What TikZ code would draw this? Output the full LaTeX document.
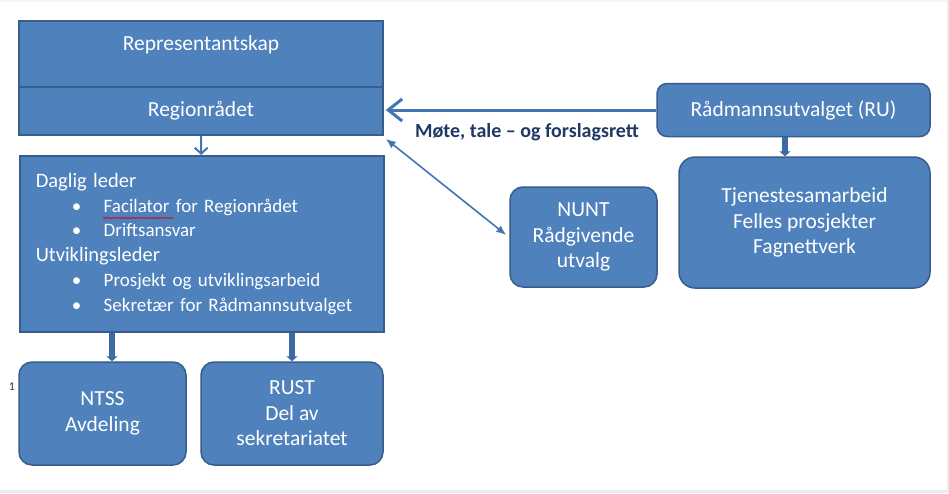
\documentclass[tikz,border=0pt]{standalone}
\usepackage{fontspec}
\setmainfont{Carlito}
\usetikzlibrary{arrows.meta,decorations.pathmorphing}

\definecolor{boxfill}{HTML}{4F81BD}
\definecolor{boxline}{HTML}{385D8A}
\definecolor{arrowblue}{HTML}{4375B3}
\definecolor{fatblue}{HTML}{3E6AA3}
\definecolor{labelnavy}{HTML}{1F3864}

\newcommand{\bulitem}[1]{\makebox[68pt][l]{\hspace{36pt}\textbullet}#1}
\newcommand{\listhead}[1]{{\fontsize{20.5}{24.8}\selectfont #1}}

\tikzset{
  box/.style={draw=boxline,fill=boxfill,line width=1.5pt,text=white,
    font=\fontsize{21.5}{25.5}\selectfont,align=center,inner sep=0pt},
  rbox/.style={box,rounded corners=13pt},
  thinarrow/.style={draw=arrowblue,line width=2pt,
    -{Straight Barb[length=6pt,width=13pt]}},
  fatarrow/.style={draw=fatblue,line width=5.5pt,
    -{Triangle[length=5pt,width=11pt]}},
  linkarrow/.style={draw=arrowblue,line width=3pt,
    -{Straight Barb[length=14pt,width=22pt]}},
  bothway/.style={draw=arrowblue,line width=1.6pt,
    {Latex[length=10pt,width=8pt]}-{Latex[length=10pt,width=8pt]}},
  lbl/.style={text=labelnavy,font=\fontsize{20}{22}\selectfont\bfseries,inner sep=0pt}
}

\begin{document}
\begin{tikzpicture}[x=1pt,y=-1pt]

  \useasboundingbox (0,0) rectangle (949,493);
  \fill[gray!15] (946.5,0) rectangle (949,493);
  \fill[gray!15] (0,489.5) rectangle (949,493);
  \fill[gray!8] (0,0) rectangle (946.5,1.5);

  \begin{scope}[every node/.style={box}]
    \node (rep) [anchor=north,minimum width=364,text height=29.5,text depth=37.5]
      at (201,20) {Representantskap};
    \node (reg) [minimum width=364,minimum height=48] at (201,111) {Regionrådet};
    \node (daglig) [anchor=north west,text width=332,inner xsep=16,minimum height=176,
      align=left,font=\fontsize{19}{24.8}\selectfont]
      at (19,155) {\listhead{Daglig leder}\\
        \bulitem{Facilator for Regionrådet}\\
        \bulitem{Driftsansvar}\\
        \listhead{Utviklingsleder}\\
        \bulitem{Prosjekt og utviklingsarbeid}\\
        \bulitem{Sekretær for Rådmannsutvalget}};
  \end{scope}

  \begin{scope}[every node/.style={rbox}]
    \node (ntss) [minimum width=167,minimum height=103] at (102.5,413.5) {NTSS\\Avdeling};
    \node (rust) [minimum width=182,minimum height=103] at (292,413.5) {RUST\\Del av\\sekretariatet};
    \node (nunt) [minimum width=147,minimum height=100] at (583.5,237) {NUNT\\Rådgivende\\utvalg};
    \node (ru)   [minimum width=273,minimum height=53,rounded corners=10pt] at (793.5,110) {Rådmannsutvalget (RU)};
    \node (tjen) [minimum width=251,minimum height=131,rounded corners=16pt] at (804.5,222.5)
      {Tjenestesamarbeid\\Felles prosjekter\\Fagnettverk};
  \end{scope}

  % spell check mark
  \draw[red!80!black,line width=0.6pt,decorate,
    decoration={snake,amplitude=0.7pt,segment length=3pt}] (103,218) -- (173,218);

  \node (one) [text=labelnavy,font=\fontsize{12}{14}\selectfont,inner sep=0pt] at (12,387) {1};
  \node (rett) [lbl] at (527,132) {Møte, tale – og forslagsrett};

  \path (reg) edge[thinarrow] (daglig);
  \path ([xshift=9.5]daglig.south -| ntss.north) edge[fatarrow] ([xshift=9.5]ntss.north);
  \path (daglig.south -| rust.north) edge[fatarrow] (rust.north);
  \path ([xshift=-8.5]ru.south) edge[fatarrow] ([xshift=-8.5]ru.south |- tjen.north);
  \path (ru.west) edge[linkarrow] ([xshift=2]reg.east |- ru.west);
  \path ([shift={(2,3)}]reg.south east) edge[bothway] ([shift={(-3,-2)}]nunt.west);

\end{tikzpicture}
\end{document}
